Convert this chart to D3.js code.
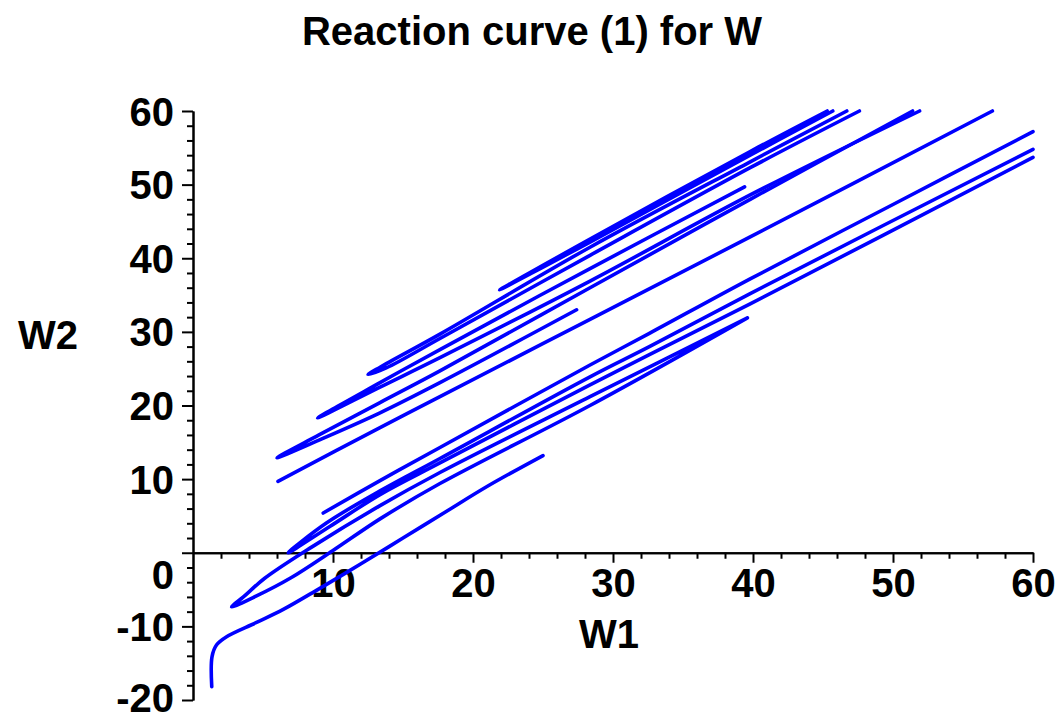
<!DOCTYPE html>
<html>
<head>
<meta charset="utf-8">
<script src="https://cdn.jsdelivr.net/npm/d3@7"></script>
<style>
  body { margin: 0; background: #fff; }
  svg { display: block; }
  text { font-family: "Liberation Sans", Arial, sans-serif; font-weight: bold; fill: #000; }
</style>
</head>
<body>
<script>
// pieces of the reaction curve (W1, W2)
var curveL0 = [[1.34,-18.2],[1.36,-14.1],[1.69,-12.5],[2.4,-11.4],[4.5,-9.5],[6.45,-7.7],[9,-4.9],[12,-1.5],[15,2.0],[18,5.5],[21,9.0],[25,13.2]];
var loopE = [[39.6,31.9],[28.36,21.2],[17.64,10.9],[13.36,6.4],[8.5,0.8],[5.1,-3.5],[3.6,-6.0],[2.76,-7.35],[4.5,-5.9],[7.0,-3.4],[10.0,0.3],[13.36,4.6],[17.64,9.4],[28.36,20.0],[39.6,31.9]];
var loopD = [[60,54.8],[39.8,35.2],[32.6,28.0],[28.36,23.9],[17.64,12.8],[13.36,8.4],[9.5,4.0],[6.8,0],[9.8,3.6],[13.36,7.9],[17.64,12.2],[28.36,22.8],[32.6,26.9],[39.8,33.8],[60,53.7]];
var lineL1 = [[9.3,5.4],[13.36,9.8],[17.64,14.3],[28.36,25.5],[32.6,29.8],[39.8,37.2],[50,47.3],[60,57.2]];
var lineS = [[6.07,9.7],[13.36,17.0],[17.64,21.2],[28.36,31.7],[39.8,42.9],[57.1,60]];
var loopB = [[27.4,33.0],[17.64,23.1],[13.36,19.0],[9,15.3],[6,12.9],[9,16.0],[13.36,20.4],[17.64,24.7],[28.36,36.0],[39.8,48.0],[51.4,60]];
var loopU4 = [[39.4,49.7],[28.36,38.6],[17.64,27.6],[13.36,23.1],[8.9,18.3],[13.36,22.5],[17.64,26.5],[28.36,36.9],[39.8,48.6],[51.9,60]];
var loopU2 = [[46.7,60],[39.8,53.1],[28.36,41.5],[17.64,29.7],[13.36,25.2],[12.5,24.2],[13.8,25.1],[17.64,29.1],[28.36,40.4],[39.8,52.3],[47.6,60]];
var loopU1 = [[45.3,60],[39.8,54.5],[28.36,42.6],[21.9,35.7],[28.36,42.2],[39.8,54.0],[45.7,60]];

var xMajor = [10,20,30,40,50,60];
var yMajor = [-20,-10,0,10,20,30,40,50,60];
var xMinor = d3.range(2,60,2).filter(function(d){return d%10!=0;});
var yMinor = d3.range(-18,60,2).filter(function(d){return d%10!=0;});

var width = 1061, height = 720;

var svg = d3.select("body").append("svg")
    .attr("width", width)
    .attr("height", height);

var x = d3.scaleLinear().domain([0,60]).range([193,1033]);
var y = d3.scaleLinear().domain([-20,60]).range([700,111]);

// minor ticks
svg.append("g")
    .attr("transform","translate(0,"+y(0)+")")
    .call(d3.axisBottom(x).tickValues(xMinor).tickSize(6).tickSizeOuter(0).tickFormat(""));
svg.append("g")
    .attr("transform","translate("+x(0)+",0)")
    .call(d3.axisLeft(y).tickValues(yMinor).tickSize(6).tickSizeOuter(0).tickFormat(""));

// major ticks + labels (plain hyphen for negatives, like the original)
var plain = function(d){ return String(d); };

var gx = svg.append("g")
    .attr("transform","translate(0,"+y(0)+")")
    .call(d3.axisBottom(x).tickValues(xMajor).tickSize(10).tickSizeOuter(0).tickFormat(plain));
gx.selectAll("text").attr("y",44).attr("dy",null)
    .style("font-size","40px").style("font-family","Liberation Sans").style("font-weight","bold");

var gy = svg.append("g")
    .attr("transform","translate("+x(0)+",0)")
    .call(d3.axisLeft(y).tickValues(yMajor).tickSize(11).tickSizeOuter(0).tickFormat(plain));
gy.selectAll("text").attr("x",-19).attr("dy",null)
    .attr("y",function(d){ return d==0 ? 36 : (d==-20 ? 11 : 14); })
    .style("font-size","40px").style("font-family","Liberation Sans").style("font-weight","bold");

svg.selectAll(".domain, .tick line").attr("stroke","#000").attr("stroke-width",2);

// the curve
var line = d3.line()
    .x(function(d){return x(d[0]);})
    .y(function(d){return y(d[1]);})
    .curve(d3.curveCatmullRom.alpha(0.5));

var pieces = [curveL0, loopE, loopD, lineL1, lineS, loopB, loopU4, loopU2, loopU1];
svg.append("g").selectAll("path")
    .data(pieces)
    .enter().append("path")
    .attr("d", line)
    .style("fill","none")
    .style("stroke","#0000ff")
    .style("stroke-width","3.6px")
    .style("stroke-linejoin","round")
    .style("stroke-linecap","round");

// texts
svg.append("text")
    .attr("x",532).attr("y",45)
    .attr("text-anchor","middle")
    .style("font-size","40px")
    .text("Reaction curve (1) for W");

svg.append("text")
    .attr("x",609).attr("y",648)
    .attr("text-anchor","middle")
    .style("font-size","40px")
    .text("W1");

svg.append("text")
    .attr("x",18).attr("y",349)
    .style("font-size","40px")
    .text("W2");
</script>
</body>
</html>
